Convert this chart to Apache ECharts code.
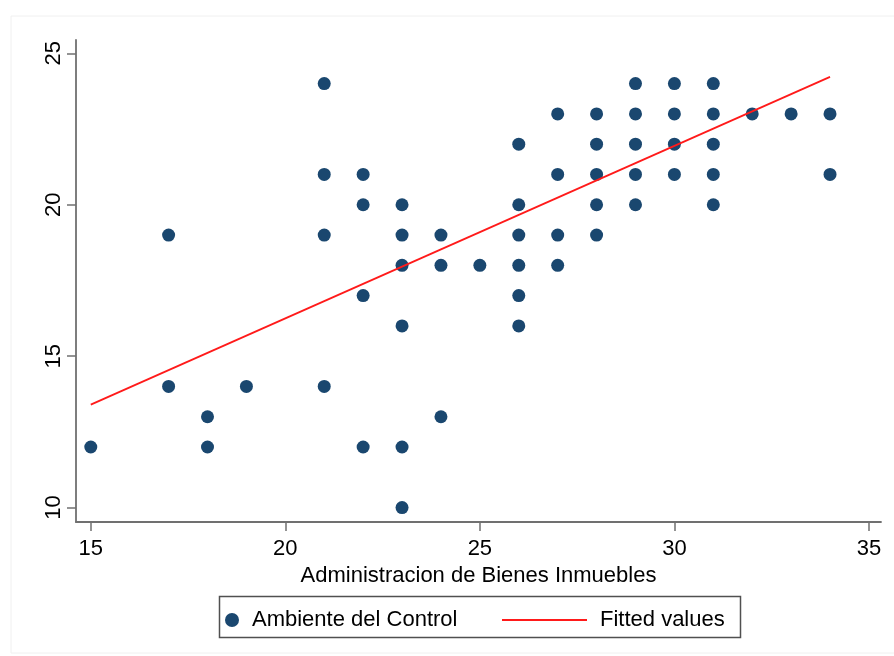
<!DOCTYPE html>
<html>
<head>
<meta charset="utf-8">
<script src="https://cdn.jsdelivr.net/npm/echarts@6/dist/echarts.min.js"></script>
<style>
    html, body { margin: 0; padding: 0; background: #fff; }
    #chart { width: 894px; height: 656px; }
</style>
</head>
<body>
<div id="chart"></div>
<script>
// 散点数据: [Administracion de Bienes Inmuebles, Ambiente del Control]
var ambiente_points = [
    [15, 12],
    [17, 19], [17, 14],
    [18, 13], [18, 12],
    [19, 14],
    [21, 24], [21, 21], [21, 19], [21, 14],
    [22, 21], [22, 20], [22, 17], [22, 12],
    [23, 20], [23, 19], [23, 18], [23, 16], [23, 12], [23, 10],
    [24, 19], [24, 18], [24, 13],
    [25, 18],
    [26, 22], [26, 20], [26, 19], [26, 18], [26, 17], [26, 16],
    [27, 23], [27, 21], [27, 19], [27, 18],
    [28, 23], [28, 22], [28, 21], [28, 20], [28, 19],
    [29, 24], [29, 23], [29, 22], [29, 21], [29, 20],
    [30, 24], [30, 23], [30, 22], [30, 21],
    [31, 24], [31, 23], [31, 22], [31, 21], [31, 20],
    [32, 23],
    [33, 23],
    [34, 23], [34, 21]
];
// 拟合直线两端
var fitted_points = [[15, 13.40], [34, 24.22]];
// 刻度
var x_ticks = [15, 20, 25, 30, 35];
var y_ticks = [10, 15, 20, 25];

window.onload = function () {
    draw_chart();
}

function draw_chart() {
    var myChart = echarts.init(document.getElementById('chart'));
    var font = 'Liberation Sans, Arial, sans-serif';
    var axis_color = '#707070';

    option = {
        animation: false,
        backgroundColor: '#fff',
        textStyle: { fontFamily: font },
        grid: {
            left: 76,
            right: 13,
            top: 40,
            bottom: 134
        },
        graphic: [
            {
                // 外框
                type: 'rect',
                shape: { x: 11, y: 16, width: 900, height: 637 },
                style: { fill: 'none', stroke: '#f0f0f0', lineWidth: 1 },
                silent: true
            },
            {
                // 图例框
                type: 'rect',
                shape: { x: 219.5, y: 596.5, width: 521, height: 41 },
                style: { fill: 'none', stroke: '#505050', lineWidth: 1.5 },
                silent: true
            }
        ],
        legend: [
            {
                data: ['Ambiente del Control'],
                left: 225,
                top: 609,
                padding: 0,
                itemWidth: 30,
                itemHeight: 14,
                icon: 'circle',
                textStyle: { fontSize: 22, color: '#000', fontFamily: font }
            },
            {
                data: [{ name: 'Fitted values', icon: 'path://M0,0 L85,0 L85,2 L0,2 Z' }],
                left: 502,
                top: 609,
                padding: 0,
                itemWidth: 85,
                itemHeight: 14,
                textStyle: { fontSize: 22, color: '#000', fontFamily: font, padding: [0, 0, 0, 8] }
            }
        ],
        xAxis: {
            type: 'value',
            min: 14.62,
            max: 35.31,
            name: 'Administracion de Bienes Inmuebles',
            nameLocation: 'middle',
            nameGap: 33,
            nameTextStyle: { fontSize: 22, color: '#000', fontFamily: font },
            axisLine: { onZero: false, lineStyle: { color: axis_color, width: 1.8 } },
            axisTick: { show: true, length: 9, customValues: x_ticks, lineStyle: { color: axis_color, width: 1.5 } },
            axisLabel: { customValues: x_ticks, margin: 16, fontSize: 22, color: '#000', fontFamily: font },
            splitLine: { show: false }
        },
        yAxis: {
            type: 'value',
            min: 9.524,
            max: 25.44,
            axisLine: { show: true, onZero: false, lineStyle: { color: axis_color, width: 1.8 } },
            axisTick: { show: true, length: 9, customValues: y_ticks, lineStyle: { color: axis_color, width: 1.5 } },
            axisLabel: { customValues: y_ticks, rotate: 90, margin: 11, fontSize: 22, color: '#000', fontFamily: font },
            splitLine: { show: false }
        },
        series: [
            {
                name: 'Ambiente del Control',
                type: 'scatter',
                symbol: 'circle',
                symbolSize: 13,
                itemStyle: { color: '#1a476f', opacity: 1 },
                data: ambiente_points
            },
            {
                name: 'Fitted values',
                type: 'line',
                symbol: 'none',
                lineStyle: { color: '#ff1a1a', width: 1.8 },
                itemStyle: { color: '#ff1a1a' },
                data: fitted_points,
                z: 3
            }
        ]
    };
    myChart.setOption(option);
}
</script>
</body>
</html>
